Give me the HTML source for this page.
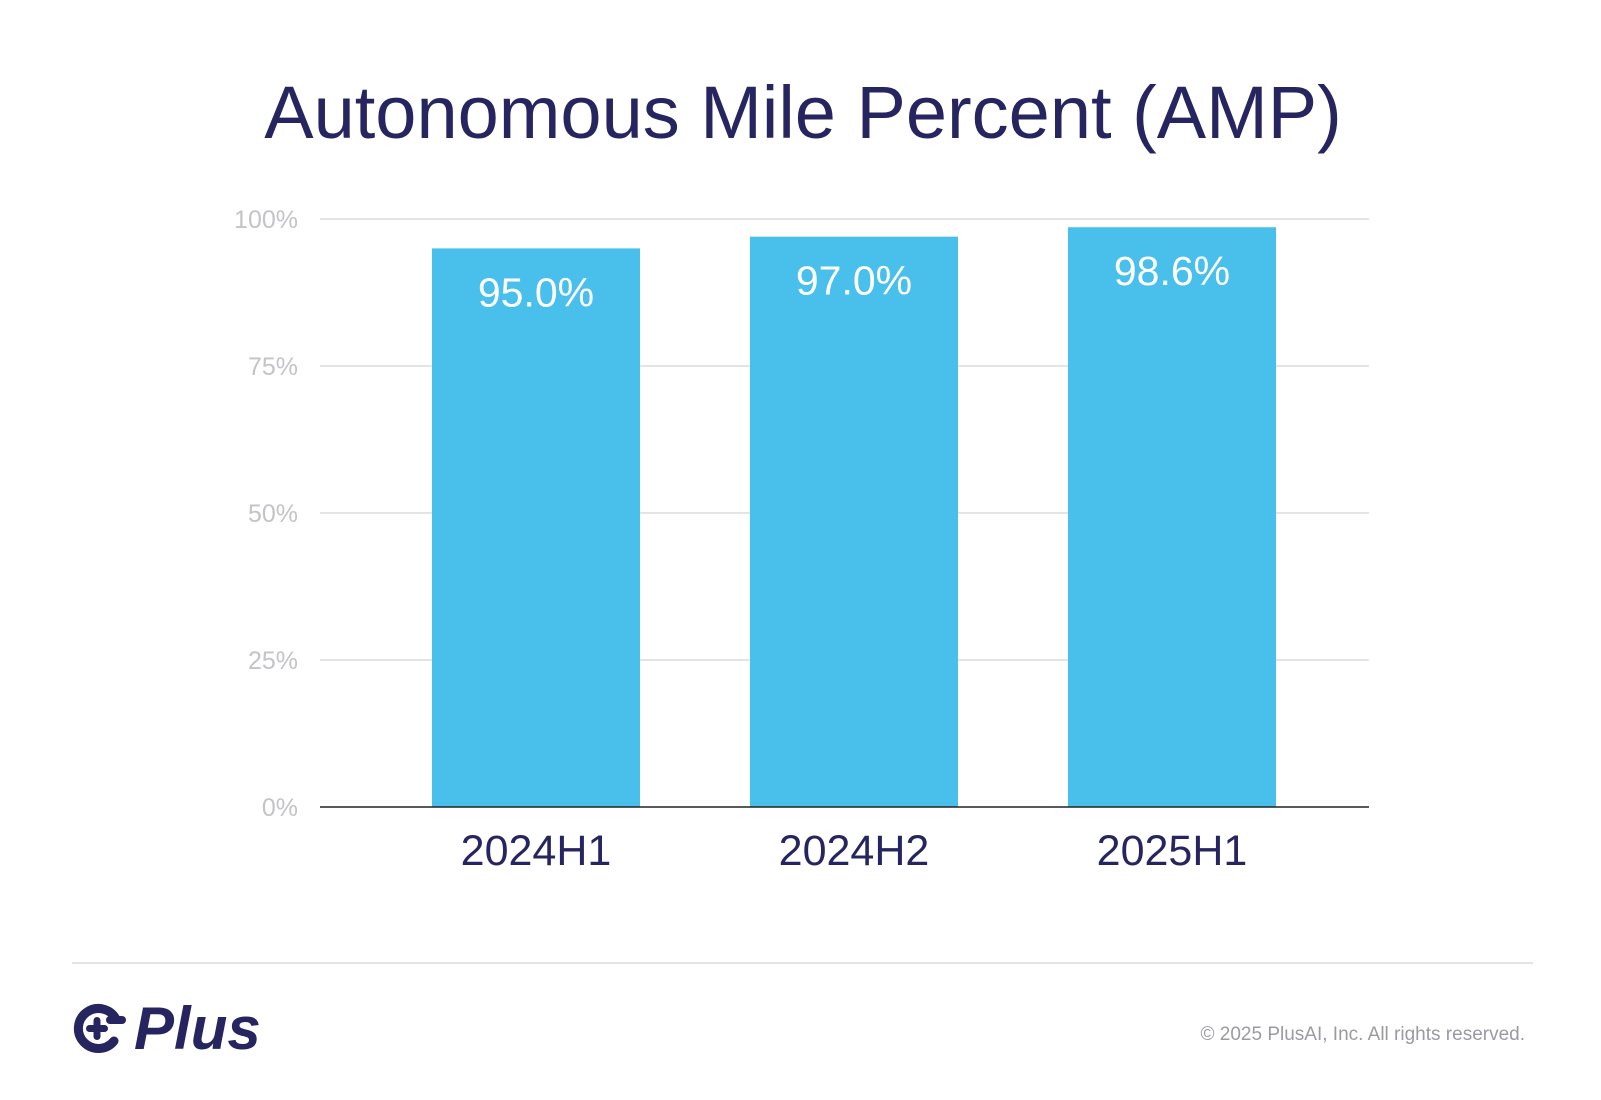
<!DOCTYPE html>
<html><head><meta charset="utf-8"><style>
html,body{margin:0;padding:0;background:#fff;}
body{width:1601px;height:1100px;position:relative;overflow:hidden;font-family:"Liberation Sans",sans-serif;}
</style></head><body>
<svg width="1601" height="1100" style="position:absolute;left:0;top:0">
<text x="803" y="138" text-anchor="middle" font-size="74" fill="#27255f">Autonomous Mile Percent (AMP)</text>
<g id="grid"></g>
<g id="bars"></g>
<line x1="72" y1="963" x2="1533" y2="963" stroke="#e4e4e6" stroke-width="2"/>
<g fill="#27255f">
<path d="M116 1019 A20 20 0 1 0 114 1041" fill="none" stroke="#27255f" stroke-width="9" stroke-linecap="round"/>
<rect x="86" y="1025" width="22" height="7" rx="3.5"/>
<rect x="93.5" y="1017" width="7" height="23" rx="3.5"/>
<rect x="106" y="1016" width="20" height="8" rx="4"/>
<text x="134" y="1049" font-size="60" font-weight="bold" font-style="italic">Plus</text>
</g>
<text x="1525" y="1040" text-anchor="end" font-size="19" fill="#9a9aa3">© 2025 PlusAI, Inc. All rights reserved.</text>
</svg>
<script>
const categories = ["2024H1","2024H2","2025H1"];
const values = [95.0, 97.0, 98.6];
const valueLabels = ["95.0%","97.0%","98.6%"];
const ticks = [0,25,50,75,100];
const tickLabels = ["0%","25%","50%","75%","100%"];
const NS="http://www.w3.org/2000/svg";
const y0=807,y1=219,xL=320,xR=1369;
const y=v=>y0-(v/100)*(y0-y1);
const xc=i=>xL+216+i*318;
const bw=208;
const grid=document.getElementById('grid');
ticks.forEach((t,i)=>{
  const l=document.createElementNS(NS,'line');
  
  
  l.setAttribute('x1',xL);l.setAttribute('x2',xR);l.setAttribute('y1',y(t));l.setAttribute('y2',y(t));
  l.setAttribute('stroke',t===0?'#222':'#e4e4e6');l.setAttribute('stroke-width',t===0?1.5:2);
  const tx=document.createElementNS(NS,'text');
  
  
  tx.setAttribute('x',298);tx.setAttribute('y',y(t)+9);tx.setAttribute('text-anchor','end');
  tx.setAttribute('font-size','25');tx.setAttribute('fill','#c3c3ca');tx.textContent=tickLabels[i];
  grid.appendChild(tx);
  if(t!==0) grid.appendChild(l); else document.getElementById('bars').after(l);
});
const bars=document.getElementById('bars');
categories.forEach((c,i)=>{
  const r=document.createElementNS(NS,'rect');
  
  
  r.setAttribute('x',xc(i)-bw/2);r.setAttribute('y',y(values[i]));r.setAttribute('width',bw);r.setAttribute('height',y0-y(values[i]));
  r.setAttribute('fill','#49bfeb');bars.appendChild(r);
  const v=document.createElementNS(NS,'text');
  
  
  v.setAttribute('x',xc(i));v.setAttribute('y',y(values[i])+58);v.setAttribute('text-anchor','middle');
  v.setAttribute('font-size','41');v.setAttribute('fill','#fff');v.textContent=valueLabels[i];bars.appendChild(v);
  const cl=document.createElementNS(NS,'text');
  
  
  cl.setAttribute('x',xc(i));cl.setAttribute('y',865);cl.setAttribute('text-anchor','middle');
  cl.setAttribute('font-size','43');cl.setAttribute('fill','#27255f');cl.textContent=c;bars.appendChild(cl);
});
</script>
</body></html>
